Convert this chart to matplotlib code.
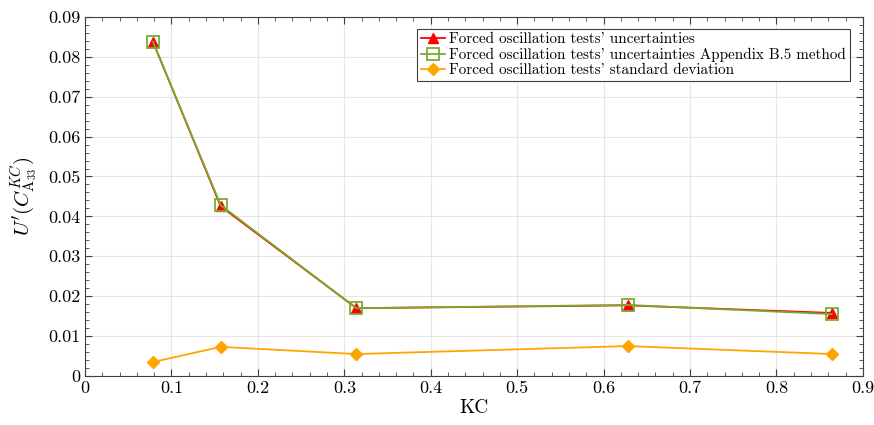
import matplotlib
matplotlib.use("Agg")
import matplotlib.pyplot as plt
from matplotlib.ticker import MultipleLocator, FuncFormatter

plt.rcParams["font.family"] = ["cmr10", "DejaVu Serif"]
plt.rcParams["mathtext.fontset"] = "cm"
plt.rcParams["axes.formatter.use_mathtext"] = True

kc = [0.0785, 0.157, 0.314, 0.628, 0.864]
unc = [0.0838, 0.0425, 0.0170, 0.0177, 0.0158]
unc_b5 = [0.0838, 0.0428, 0.0170, 0.0178, 0.0155]
std = [0.0035, 0.0073, 0.0055, 0.0075, 0.0055]

labels = ["Forced oscillation tests' uncertainties",
          "Forced oscillation tests' uncertainties Appendix B.5 method",
          "Forced oscillation tests' standard deviation"]

def fmt(v, pos):
    s = "%.2f" % v
    s = s.rstrip("0").rstrip(".")
    return s if s else "0"

fig = plt.figure(figsize=(8.74, 4.25), dpi=100)
ax = fig.add_axes([0.0973, 0.1153, 0.89, 0.845])

ax.plot(kc, unc, color="#ff0000", marker="^", markersize=7, lw=1.3, label=labels[0])
ax.plot(kc, unc_b5, color="#77ac30", marker="s", markersize=8, mfc="none", mew=1.3, lw=1.3, label=labels[1])
ax.plot(kc, std, color="#ffa500", marker="D", markersize=6, lw=1.3, label=labels[2])

ax.set_xlim(0, 0.9)
ax.set_ylim(0, 0.09)
ax.xaxis.set_major_locator(MultipleLocator(0.1))
ax.xaxis.set_minor_locator(MultipleLocator(0.02))
ax.yaxis.set_major_locator(MultipleLocator(0.01))
ax.yaxis.set_minor_locator(MultipleLocator(0.002))
ax.xaxis.set_major_formatter(FuncFormatter(fmt))
ax.yaxis.set_major_formatter(FuncFormatter(fmt))
ax.tick_params(which="both", direction="in", top=True, right=True, labelsize=13, color="#404040")
ax.tick_params(which="major", length=5)
ax.tick_params(which="minor", length=3)
ax.grid(True, which="major", color="#e6e6e6", lw=0.8)
ax.set_axisbelow(True)
for s in ax.spines.values():
    s.set_color("#404040")
    s.set_linewidth(0.8)

ax.set_xlabel("KC", fontsize=14, labelpad=2)
ax.set_ylabel(r"$U'(C^{KC}_{\mathrm{A}_{33}})$", fontsize=15, labelpad=6)

leg = ax.legend(loc="upper left", bbox_to_anchor=(0.477, 0.932), bbox_transform=fig.transFigure,
                fontsize=10.9, frameon=True, fancybox=False, framealpha=1, edgecolor="#404040",
                handlelength=1.6, handletextpad=0.3, labelspacing=0.1, borderpad=0.25, borderaxespad=0)
leg.get_frame().set_linewidth(0.8)

fig.savefig("out.png", dpi=100)
